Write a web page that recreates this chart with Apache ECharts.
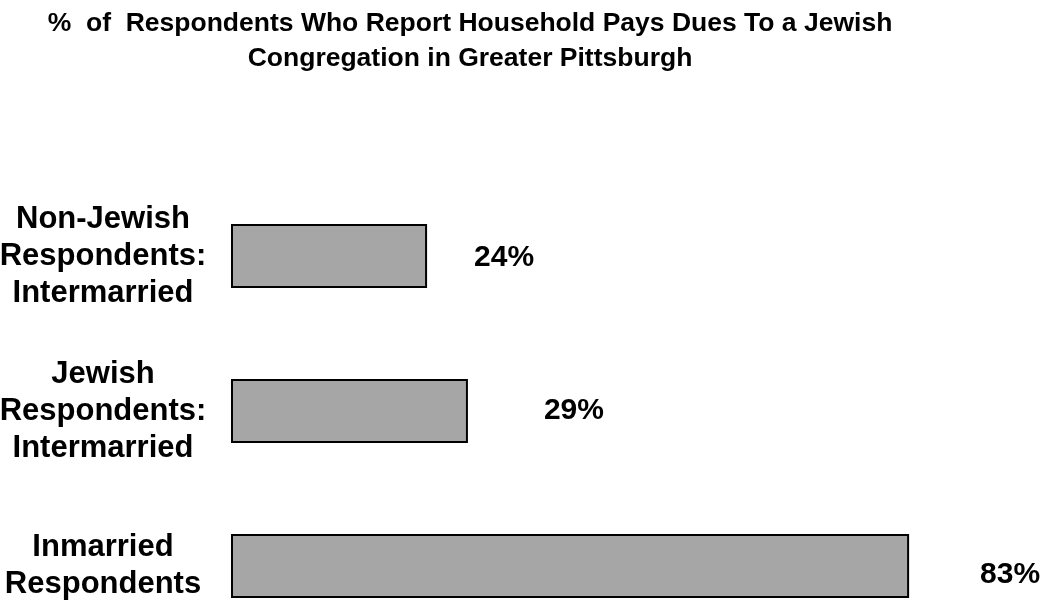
<!DOCTYPE html>
<html>
<head>
<meta charset="utf-8">
<title>Congregation dues</title>
<script src="https://cdn.jsdelivr.net/npm/echarts@6/dist/echarts.min.js"></script>
<style>
  html, body { margin: 0; padding: 0; background: #ffffff; }
  #chart { width: 1051px; height: 601px; }
</style>
</head>
<body>
<div id="chart"></div>
<script>
// Respondent groups, top to bottom
var categories = [
  'Non-Jewish\nRespondents:\nIntermarried',
  'Jewish\nRespondents:\nIntermarried',
  'Inmarried\nRespondents'
];
// Share of households paying congregation dues (%)
var duesPct = [24, 29, 83];

// Per-bar value label tweaks (gap from bar end, vertical shift)
var labelGap = [47, 76, 71];
var labelShift = [2, 0, 8.5];
// Per-category name padding [top, right, bottom, left]
var namePad = [[0, 0, 4, 0], [8, 0, 0, 0], [15, 0, 0, 0]];

var FONT = '"Liberation Sans", Arial, Helvetica, sans-serif';

var chart = echarts.init(document.getElementById('chart'), null, { renderer: 'canvas' });

var barData = duesPct.map(function (v, i) {
  return {
    value: v,
    label: { distance: labelGap[i], offset: [0, labelShift[i]] }
  };
});

var catData = categories.map(function (c, i) {
  return { value: c, textStyle: { align: 'center', padding: namePad[i] } };
});

chart.setOption({
  backgroundColor: '#ffffff',
  animation: false,
  title: {
    text: '%  of  Respondents Who Report Household Pays Dues To a Jewish\nCongregation in Greater Pittsburgh',
    left: 470,
    top: 6,
    padding: 0,
    textAlign: 'center',
    textStyle: {
      fontFamily: FONT,
      fontSize: 26.5,
      fontWeight: 'bold',
      color: '#000000',
      lineHeight: 35
    }
  },
  grid: {
    left: 231,
    right: 3,
    top: 256,
    bottom: 35,
    containLabel: false,
    outerBoundsMode: 'none'
  },
  xAxis: {
    type: 'value',
    min: 0,
    max: 100,
    show: false
  },
  yAxis: {
    type: 'category',
    data: catData,
    inverse: true,
    boundaryGap: false,
    axisLine: { show: false },
    axisTick: { show: false },
    splitLine: { show: false },
    axisLabel: {
      fontFamily: FONT,
      fontSize: 31,
      fontWeight: 'bold',
      color: '#000000',
      lineHeight: 37,
      align: 'center',
      margin: 128
    }
  },
  series: [{
    type: 'bar',
    data: barData,
    barWidth: 64,
    itemStyle: {
      color: '#a6a6a6',
      borderColor: '#000000',
      borderWidth: 2
    },
    label: {
      show: true,
      position: 'right',
      formatter: '{c}%',
      fontFamily: FONT,
      fontSize: 30,
      fontWeight: 'bold',
      color: '#000000'
    }
  }]
});
</script>
</body>
</html>
